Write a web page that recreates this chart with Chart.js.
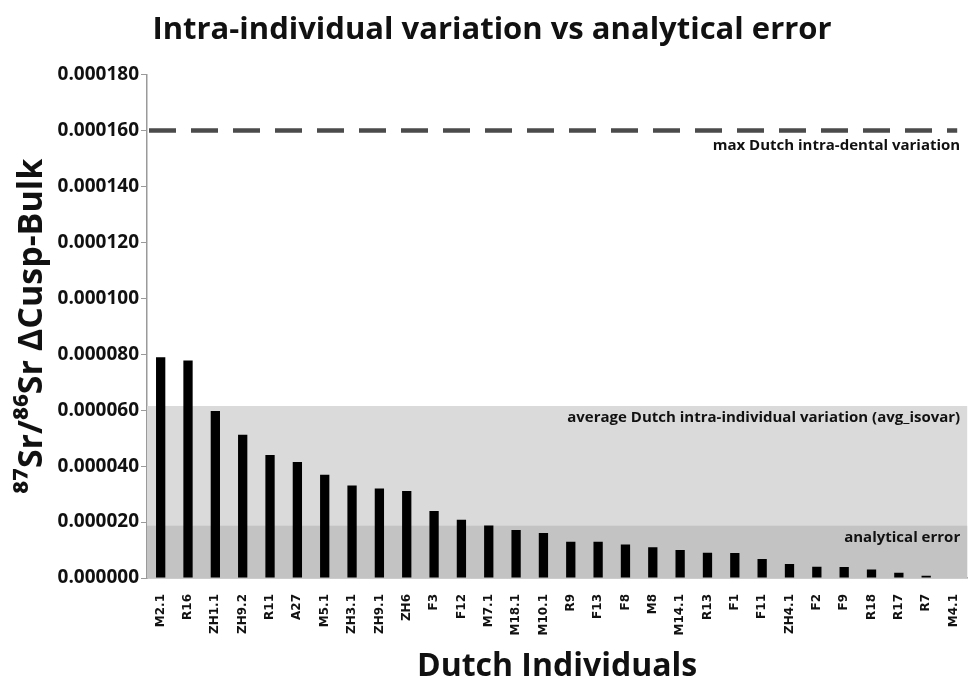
<!DOCTYPE html>
<html>
<head>
<meta charset="utf-8">
<script src="https://cdn.jsdelivr.net/npm/chart.js@4"></script>
<style>
  html, body { margin: 0; padding: 0; background: #fff; }
  #wrap { width: 976px; height: 680px; }
</style>
</head>
<body>
<div id="wrap"><canvas id="chart" width="976" height="680"></canvas></div>
<script>
// individuals, sorted by cusp-bulk difference
const individuals = ['M2.1', 'R16', 'ZH1.1', 'ZH9.2', 'R11', 'A27', 'M5.1', 'ZH3.1', 'ZH9.1', 'ZH6',
  'F3', 'F12', 'M7.1', 'M18.1', 'M10.1', 'R9', 'F13', 'F8', 'M8', 'M14.1',
  'R13', 'F1', 'F11', 'ZH4.1', 'F2', 'F9', 'R18', 'R17', 'R7', 'M4.1'];
const cuspBulk = [0.0000789, 0.0000778, 0.0000597, 0.0000512, 0.0000440, 0.0000415, 0.0000369, 0.0000331, 0.0000320, 0.0000311,
  0.0000240, 0.0000208, 0.0000188, 0.0000172, 0.0000161, 0.0000130, 0.0000130, 0.0000120, 0.0000110, 0.0000100,
  0.0000090, 0.0000089, 0.0000068, 0.0000050, 0.0000040, 0.0000039, 0.0000030, 0.0000019, 0.0000008, 0.0000000];
const yTicks = [0, 0.00002, 0.00004, 0.00006, 0.00008, 0.0001, 0.00012, 0.00014, 0.00016, 0.00018];

// reference levels
const maxIntraDental = 0.00016;
const avgIsovar = 0.0000615;
const analyticalError = 0.0000187;
const refLabels = ['max Dutch intra-dental variation', 'average Dutch intra-individual variation (avg_isovar)', 'analytical error'];

// bands + dashed line + their labels
const refPlugin = {
  id: 'refLevels',
  beforeDatasetsDraw(chart) {
    const { ctx, chartArea: a, scales: { y } } = chart;
    ctx.save();
    ctx.fillStyle = '#dadada';
    ctx.fillRect(a.left, y.getPixelForValue(avgIsovar), a.right - a.left, y.getPixelForValue(0) - y.getPixelForValue(avgIsovar));
    ctx.fillStyle = '#c3c3c3';
    ctx.fillRect(a.left, y.getPixelForValue(analyticalError), a.right - a.left, y.getPixelForValue(0) - y.getPixelForValue(analyticalError));

    const yMax = y.getPixelForValue(maxIntraDental);
    ctx.strokeStyle = '#4b4b4b';
    ctx.lineWidth = 4.5;
    ctx.setLineDash([27, 15]);
    ctx.beginPath();
    ctx.moveTo(a.left + 2, yMax);
    ctx.lineTo(a.right - 10, yMax);
    ctx.stroke();
    ctx.setLineDash([]);

    ctx.fillStyle = '#111';
    ctx.font = 'bold 15px "Open Sans", sans-serif';
    ctx.textAlign = 'right';
    ctx.textBaseline = 'middle';
    const xr = a.right - 7;
    ctx.fillText(refLabels[0], xr, yMax + 15);
    ctx.fillText(refLabels[1], xr, y.getPixelForValue(avgIsovar) + 12);
    ctx.fillText(refLabels[2], xr, y.getPixelForValue(analyticalError) + 12);
    ctx.restore();
  }
};

new Chart(document.getElementById('chart'), {
  type: 'bar',
  data: {
    labels: individuals,
    datasets: [{ label: 'ΔCusp-Bulk', data: cuspBulk, backgroundColor: '#000', barPercentage: 0.34, categoryPercentage: 1 }]
  },
  options: {
    responsive: false,
    animation: false,
    layout: { padding: { left: 12, right: 4, top: 0, bottom: 0 } },
    plugins: {
      legend: { display: false },
      tooltip: { enabled: false },
      title: {
        display: true,
        text: 'Intra-individual variation vs analytical error',
        color: '#111',
        font: { family: '"Open Sans", sans-serif', size: 31, weight: 'bold' },
        padding: { top: 12, bottom: 25.4 }
      }
    },
    scales: {
      x: {
        grid: { display: false },
        border: { color: '#9a9a9a', width: 1.5 },
        ticks: {
          color: '#111', maxRotation: 90, minRotation: 90, autoSkip: false, padding: 8,
          font: { family: '"DejaVu Sans", sans-serif', size: 12, weight: 'bold' }
        },
        title: {
          display: true, text: 'Dutch Individuals', color: '#111',
          font: { family: '"Open Sans", sans-serif', size: 32, weight: 'bold', lineHeight: 0.85 },
          padding: { top: 14, bottom: 0 }
        },
        afterFit(s) { s.height = 102; }
      },
      y: {
        min: 0,
        max: 0.00018,
        afterBuildTicks(s) { s.ticks = yTicks.map(v => ({ value: v })); },
        grid: { drawOnChartArea: false, color: '#9a9a9a', tickLength: 6 },
        border: { color: '#9a9a9a', width: 1.5 },
        ticks: {
          color: '#111', padding: 2,
          font: { family: '"Open Sans", sans-serif', size: 19, weight: 'bold' },
          callback: v => v.toFixed(6)
        },
        title: {
          display: true, text: '⁸⁷Sr/⁸⁶Sr ΔCusp-Bulk', color: '#111',
          font: { family: '"Open Sans", sans-serif', size: 34, weight: 'bold' },
          padding: { top: 0, bottom: 6 }
        },
        afterFit(s) { s.width = 135; }
      }
    }
  },
  plugins: [refPlugin]
});
</script>
</body>
</html>
